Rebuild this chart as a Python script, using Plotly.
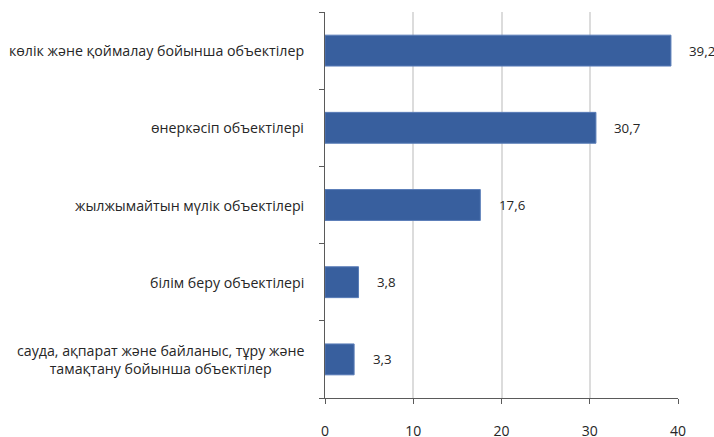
import plotly.graph_objects as go

categories = [
    "көлік және қоймалау бойынша объектілер",
    "өнеркәсіп объектілері",
    "жылжымайтын мүлік объектілері",
    "білім беру объектілері",
    "сауда, ақпарат және байланыс, тұру және<br>тамақтану бойынша объектілер",
]
values = [39.2, 30.7, 17.6, 3.8, 3.3]
value_labels = ["39,2", "30,7", "17,6", "3,8", "3,3"]
x_ticks = [0, 10, 20, 30, 40]

FONT = "Open Sans"
TXT = "#262626"
AXIS = "#5A5A5A"

fig = go.Figure(go.Bar(
    x=values, y=categories, orientation="h",
    marker=dict(color="#385F9E", line=dict(color="#5A7DB8", width=1)),
    width=0.4,
    hoverinfo="skip",
))

annotations = []
for c, v, lab in zip(categories, values, value_labels):
    annotations.append(dict(x=v, y=c, xref="x", yref="y", text=lab, showarrow=False,
                            xanchor="left", xshift=16.5, font=dict(family=FONT, size=13.3, color=TXT)))
    annotations.append(dict(x=0, y=c, xref="paper", yref="y", text=c, showarrow=False,
                            xanchor="right", xshift=-19, align="center",
                            font=dict(family=FONT, size=14.2, color=TXT)))

fig.update_layout(
    width=714, height=437,
    margin=dict(l=325, r=36, t=12, b=39, autoexpand=False),
    plot_bgcolor="white", paper_bgcolor="white",
    showlegend=False,
    annotations=annotations,
    xaxis=dict(range=[0, 40], tickvals=x_ticks, ticktext=[str(t) for t in x_ticks],
               showgrid=True, gridcolor="#DCDCDC", gridwidth=2,
               showline=True, linecolor=AXIS, linewidth=1,
               ticks="outside", ticklen=5, tickcolor=AXIS,
               ticklabelstandoff=15, zeroline=False, automargin=False,
               tickfont=dict(family=FONT, size=14, color=TXT)),
    yaxis=dict(type="category", categoryorder="array", categoryarray=categories[::-1],
               showticklabels=False, tickson="boundaries", automargin=False,
               ticks="outside", ticklen=5, tickcolor=AXIS,
               showline=True, linecolor=AXIS, linewidth=1,
               showgrid=False, zeroline=False),
)

# remove the browser's default 8px body margin so the 714x437 figure fills the window exactly
fig.write_html("out.html", config={"displayModeBar": False},
               post_script="document.body.style.margin='0';")
